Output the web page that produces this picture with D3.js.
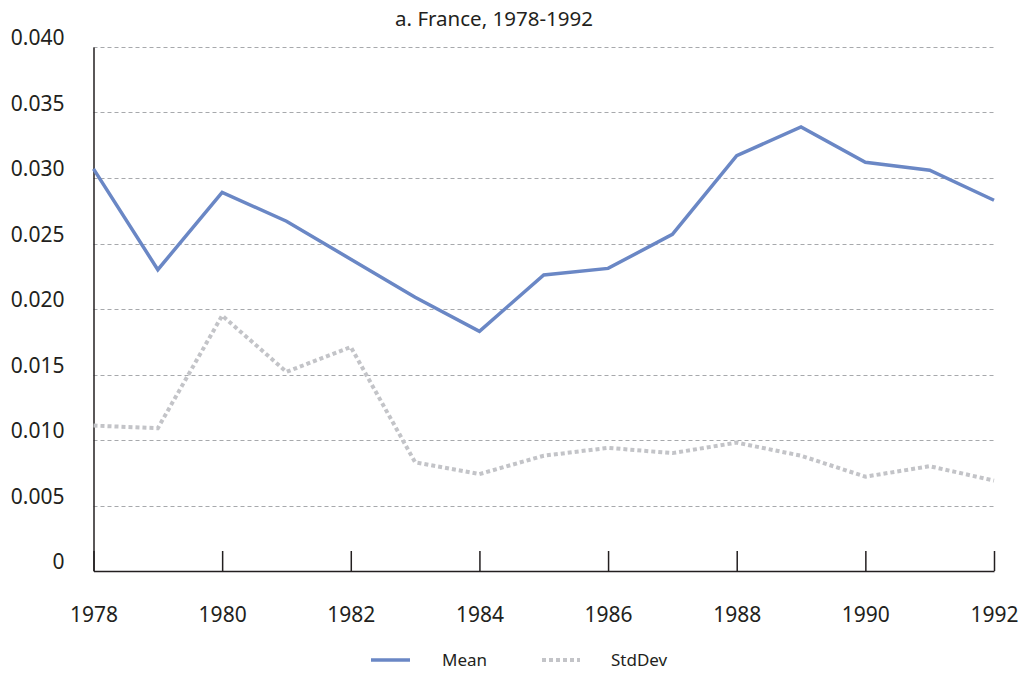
<!DOCTYPE html>
<html>
<head>
<meta charset="utf-8">
<script src="https://cdn.jsdelivr.net/npm/d3@7"></script>
<style>
  body { margin: 0; background: #fff; }
  svg text { font-family: "Noto Sans", "Open Sans", sans-serif; fill: #231f20; }
</style>
</head>
<body>
<script>
// ----- data -----
const years = [1978, 1979, 1980, 1981, 1982, 1983, 1984, 1985, 1986, 1987, 1988, 1989, 1990, 1991, 1992];
const meanVals = [0.0307, 0.0230, 0.0289, 0.0267, 0.0238, 0.0209, 0.0183, 0.0226, 0.0231, 0.0257, 0.0317, 0.0339, 0.0312, 0.0306, 0.0283];
const stdVals = [0.0111, 0.0109, 0.0195, 0.0152, 0.0171, 0.0083, 0.0074, 0.0088, 0.0094, 0.0090, 0.0098, 0.0088, 0.0072, 0.0080, 0.0069];
const xTicks = [1978, 1980, 1982, 1984, 1986, 1988, 1990, 1992];
const yTicks = [0, 0.005, 0.010, 0.015, 0.020, 0.025, 0.030, 0.035, 0.040];
const yTickLabels = ['0', '0.005', '0.010', '0.015', '0.020', '0.025', '0.030', '0.035', '0.040'];

const width = 1030, height = 674;
const plotLeft = 93.5, plotRight = 994, plotTop = 47, plotBottom = 571;

const svg = d3.select('body').append('svg')
  .attr('width', width)
  .attr('height', height);

const x = d3.scaleLinear().domain([1978, 1992]).range([plotLeft, plotRight]);
const y = d3.scaleLinear().domain([0, 0.04]).range([plotBottom, plotTop]);

// ----- gridlines -----
svg.append('g')
  .selectAll('line')
  .data(yTicks.filter(d => d > 0))
  .join('line')
  .attr('x1', plotLeft)
  .attr('x2', plotRight)
  .attr('y1', d => Math.round(y(d)) + 0.5)
  .attr('y2', d => Math.round(y(d)) + 0.5)
  .attr('stroke', '#a7a9ac')
  .attr('stroke-width', 1)
  .attr('stroke-dasharray', '4,3');

// ----- y axis -----
const yAxis = svg.append('g')
  .attr('transform', `translate(${plotLeft},0)`)
  .call(d3.axisLeft(y)
    .tickValues(yTicks)
    .tickSize(0)
    .tickPadding(29)
    .tickFormat((d, i) => yTickLabels[i]));
yAxis.select('.domain').attr('stroke', '#231f20').attr('stroke-width', 1.5);
yAxis.selectAll('text')
  .attr('font-size', 21)
  .attr('dy', '-0.1em');

// ----- x axis -----
const xAxis = svg.append('g')
  .attr('transform', `translate(0,${plotBottom})`)
  .call(d3.axisBottom(x)
    .tickValues(xTicks)
    .tickSizeInner(-20)
    .tickSizeOuter(0)
    .tickPadding(36)
    .tickFormat(d3.format('d')));
xAxis.select('.domain').attr('stroke', '#231f20').attr('stroke-width', 1.5);
xAxis.selectAll('.tick line').attr('stroke', '#231f20').attr('stroke-width', 1.5);
xAxis.selectAll('text').attr('font-size', 21);

// ----- lines -----
const line = d3.line()
  .x((d, i) => x(years[i]))
  .y(d => y(d));

svg.append('path')
  .datum(stdVals)
  .attr('d', line)
  .attr('fill', 'none')
  .attr('stroke', '#c3c4c8')
  .attr('stroke-width', 4)
  .attr('stroke-dasharray', '4,3');

svg.append('path')
  .datum(meanVals)
  .attr('d', line)
  .attr('fill', 'none')
  .attr('stroke', '#6a87c5')
  .attr('stroke-width', 3.5)
  .attr('stroke-linejoin', 'miter');

// ----- title -----
svg.append('text')
  .attr('x', 494)
  .attr('y', 26)
  .attr('text-anchor', 'middle')
  .attr('font-size', 20.5)
  .text('a. France, 1978-1992');

// ----- legend -----
const legend = svg.append('g');
legend.append('line')
  .attr('x1', 371).attr('x2', 410)
  .attr('y1', 660).attr('y2', 660)
  .attr('stroke', '#6a87c5')
  .attr('stroke-width', 3.5);
legend.append('text')
  .attr('x', 442).attr('y', 666)
  .attr('font-size', 17)
  .text('Mean');
legend.append('line')
  .attr('x1', 542).attr('x2', 580)
  .attr('y1', 660).attr('y2', 660)
  .attr('stroke', '#c3c4c8')
  .attr('stroke-width', 4)
  .attr('stroke-dasharray', '4,3');
legend.append('text')
  .attr('x', 611).attr('y', 666)
  .attr('font-size', 17)
  .text('StdDev');
</script>
</body>
</html>
